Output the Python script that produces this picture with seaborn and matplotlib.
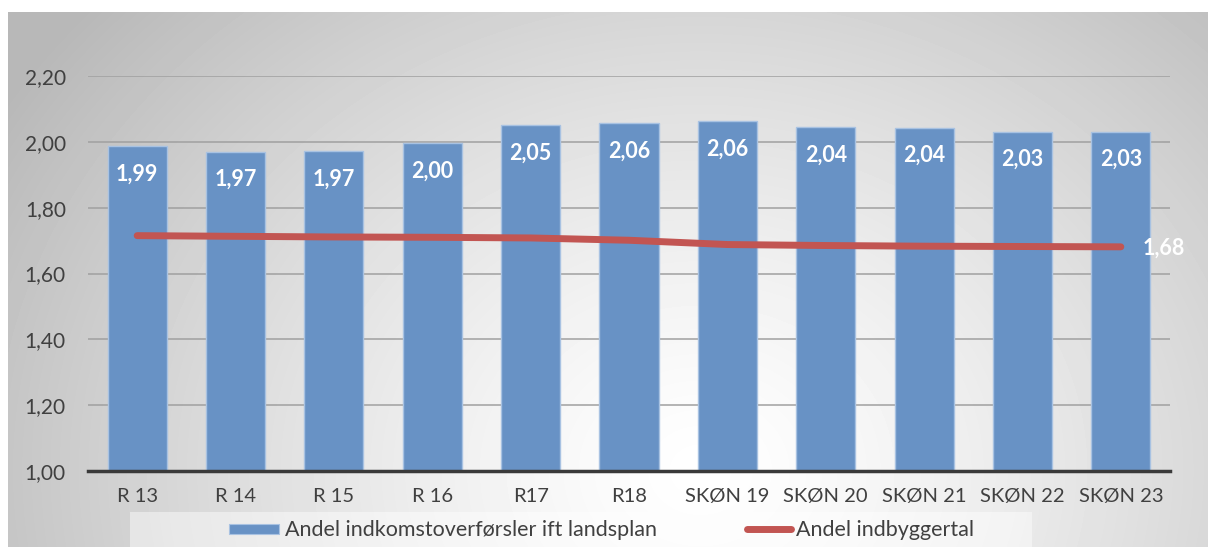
import numpy as np
import pandas as pd
import matplotlib
matplotlib.use("Agg")
import matplotlib.pyplot as plt
import seaborn as sns
from matplotlib.patches import Rectangle
from matplotlib.lines import Line2D
from matplotlib.ticker import FuncFormatter

# data
categories = ["R 13", "R 14", "R 15", "R 16", "R17", "R18",
              "SKØN 19", "SKØN 20", "SKØN 21", "SKØN 22", "SKØN 23"]
andel_indkomst = [1.988, 1.970, 1.972, 1.997, 2.050, 2.057, 2.063, 2.045, 2.043, 2.031, 2.031]
bar_labels = ["1,99", "1,97", "1,97", "2,00", "2,05", "2,06", "2,06", "2,04", "2,04", "2,03", "2,03"]
andel_indbyggere = [1.715, 1.713, 1.711, 1.710, 1.708, 1.701, 1.688, 1.685, 1.683, 1.682, 1.681]
y_ticks = [1.0, 1.2, 1.4, 1.6, 1.8, 2.0, 2.2]

BAR_COLOR = "#6892c5"
LINE_COLOR = "#c25552"
FONT = "Lato"

df = pd.DataFrame({"kategori": categories, "andel": andel_indkomst})

sns.set_theme(style="white")
plt.rcParams["font.family"] = [FONT, "DejaVu Sans"]

W, H = 1208, 547
fig = plt.figure(figsize=(W / 100, H / 100), dpi=100)
fig.patch.set_facecolor("white")

# radial gradient background of the chart area
bg = fig.add_axes([8 / W, 0, 1 - 8 / W, 1 - 12 / H], zorder=-10)
yy, xx = np.mgrid[12:H, 8:W]
d = np.sqrt(((xx - 700) / 1.0) ** 2 + ((yy - 470) / 0.85) ** 2)
shade = 1 - 0.28 * np.clip(d / 820, 0, 1) ** 1.3
bg.imshow(shade, cmap="gray", vmin=0, vmax=1, aspect="auto",
          extent=[0, 1, 0, 1], interpolation="bilinear")
bg.axis("off")

ax = fig.add_axes([88 / W, 1 - 471 / H, (1170 - 88) / W, (471 - 76) / H])
ax.patch.set_alpha(0)

sns.barplot(data=df, x="kategori", y="andel", color=BAR_COLOR, width=0.6,
            saturation=1, edgecolor="#a8c2e2", linewidth=1.0, ax=ax, zorder=3)

x = np.arange(len(categories))
ax.plot(x, andel_indbyggere, color=LINE_COLOR, lw=5, solid_capstyle="round", zorder=5)

for i, (v, lab) in enumerate(zip(andel_indkomst, bar_labels)):
    ax.text(i, v - 0.085, lab, ha="center", va="center", color="white",
            fontsize=15.5, fontweight="bold", zorder=6)
ax.text(x[-1] + 0.22, andel_indbyggere[-1] - 0.005, "1,68", ha="left", va="center",
        color="white", fontsize=15.5, fontweight="bold", zorder=6)

ax.set_ylim(1.0, 2.2)
ax.set_xlim(-0.5, len(categories) - 0.5)
ax.set_yticks(y_ticks)
ax.yaxis.set_major_formatter(FuncFormatter(lambda v, p: f"{v:.2f}".replace(".", ",")))
ax.grid(axis="y", color="#a0a0a0", lw=1.1, zorder=0)
ax.set_axisbelow(True)
ax.set_xlabel("")
ax.set_ylabel("")
for s in ["top", "right", "left"]:
    ax.spines[s].set_visible(False)
ax.spines["bottom"].set_color("#3a3a3a")
ax.spines["bottom"].set_linewidth(2.5)
ax.spines["bottom"].set_zorder(7)
ax.tick_params(axis="y", length=0, labelsize=15, labelcolor="#404040", pad=16)
ax.tick_params(axis="x", which="major", length=0, labelsize=14.5, labelcolor="#404040", pad=12)
ax.set_xticks(np.arange(-0.5, len(categories), 1.0), minor=True)
ax.tick_params(axis="x", which="minor", length=6, width=2.5, color="#3a3a3a", direction="out")

# legend box
lg = fig.add_axes([0, 0, 1, 1], zorder=-5)
lg.set_xlim(0, W)
lg.set_ylim(H, 0)
lg.axis("off")
lg.add_patch(Rectangle((130, 512), 902, 40, facecolor="white", alpha=0.45, lw=0))
lg.add_patch(Rectangle((229, 524), 50, 10, facecolor=BAR_COLOR, edgecolor="#a8c2e2", lw=0.8))
lg.text(285, 530, "Andel indkomstoverførsler ift landsplan", va="center", ha="left",
        fontsize=15.5, color="#404040")
lg.add_line(Line2D([747, 791], [529, 529], color=LINE_COLOR, lw=5, solid_capstyle="round"))
lg.text(796, 530, "Andel indbyggertal", va="center", ha="left", fontsize=15.5, color="#404040")

fig.savefig("out.png", dpi=100)
